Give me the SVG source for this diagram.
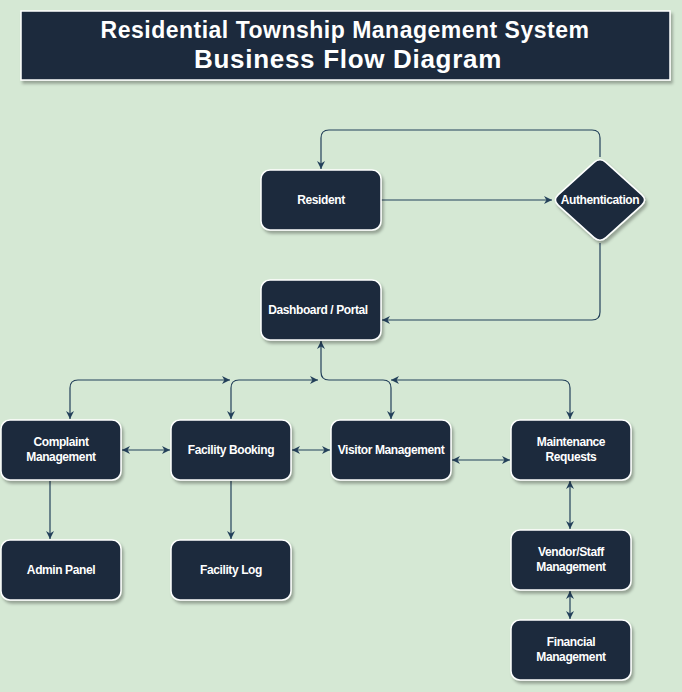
<svg xmlns="http://www.w3.org/2000/svg" width="682" height="692" viewBox="0 0 682 692">
<style>
.bg{fill:#d5e8d4}
.node{fill:#1a2c3e;stroke:#ffffff;stroke-width:1.5;filter:url(#sh)}
.lbl{font-family:"Liberation Sans",Arial,sans-serif;font-size:12px;font-weight:bold;fill:#ffffff;text-anchor:middle;letter-spacing:-0.4px}
.ttl{font-family:"Liberation Sans",Arial,sans-serif;font-weight:bold;fill:#ffffff;text-anchor:middle}
.edge{fill:none;stroke:#23405a;stroke-width:1.2}
.one{marker-end:url(#ah)}
.two{marker-end:url(#ah);marker-start:url(#ah)}
</style>
<defs>
<filter id="sh" x="-20%" y="-20%" width="140%" height="140%">
<feDropShadow dx="2" dy="3" stdDeviation="1.5" flood-color="#000000" flood-opacity="0.3"/>
</filter>
<marker id="ah" viewBox="0 0 10 10" refX="10" refY="5" markerWidth="8" markerHeight="8" markerUnits="userSpaceOnUse" orient="auto-start-reverse">
<path d="M0,0 L10,5 L0,10 L3,5 Z" fill="#23405a"/>
</marker>
</defs>
<rect class="bg" x="0" y="0" width="682" height="692"/>
<g id="title">
<rect class="node" x="21" y="11" width="649" height="69" rx="0"/>
<text class="ttl" x="345" y="38" font-size="23" letter-spacing="0.5">Residential Township Management System</text>
<text class="ttl" x="348" y="68" font-size="26" letter-spacing="0.7">Business Flow Diagram</text>
</g>
<g id="connectors">
<path class="edge one" d="M381,200 L552,200"/>
<path class="edge one" d="M600,157 L600,138 Q600,130 592,130 L329,130 Q321,130 321,138 L321,169"/>
<path class="edge one" d="M600,243 L600,312 Q600,320 592,320 L382,320"/>
<path class="edge two" d="M321,341 L321,372 Q321,380 329,380 L383,380 Q391,380 391,388 L391,419"/>
<path class="edge two" d="M231,419 L231,388 Q231,380 239,380 L318,380"/>
<path class="edge two" d="M70,419 L70,388 Q70,380 78,380 L230,380"/>
<path class="edge two" d="M570,419 L570,388 Q570,380 562,380 L391,380"/>
<path class="edge two" d="M122,450 L170,450"/>
<path class="edge two" d="M292,450 L330,450"/>
<path class="edge two" d="M452,460 L510,460"/>
<path class="edge one" d="M50,481 L50,539"/>
<path class="edge one" d="M231,481 L231,539"/>
<path class="edge two" d="M570,481 L570,529"/>
<path class="edge two" d="M570,591 L570,619"/>
</g>
<g id="resident"><rect class="node" x="261" y="170" width="120" height="60" rx="9"/><text class="lbl" x="321" y="204">Resident</text></g>
<g id="authentication"><path class="node" d="M594.1,162.4 Q600,157 605.9,162.4 L641.6,194.6 Q647.5,200 641.6,205.4 L605.9,237.6 Q600,243 594.1,237.6 L558.4,205.4 Q552.5,200 558.4,194.6 Z"/><text class="lbl" x="600" y="204">Authentication</text></g>
<g id="dashboard"><rect class="node" x="261" y="280" width="120" height="60" rx="9"/><text class="lbl" x="318" y="314">Dashboard / Portal</text></g>
<g id="complaint"><rect class="node" x="1" y="420" width="120" height="60" rx="9"/><text class="lbl" x="61" y="446">Complaint</text><text class="lbl" x="61" y="461">Management</text></g>
<g id="facility-booking"><rect class="node" x="171" y="420" width="120" height="60" rx="9"/><text class="lbl" x="231" y="454">Facility Booking</text></g>
<g id="visitor"><rect class="node" x="331" y="420" width="120" height="60" rx="9"/><text class="lbl" x="391" y="454">Visitor Management</text></g>
<g id="maintenance"><rect class="node" x="511" y="420" width="120" height="60" rx="9"/><text class="lbl" x="571" y="446">Maintenance</text><text class="lbl" x="571" y="461">Requests</text></g>
<g id="admin"><rect class="node" x="1" y="540" width="120" height="60" rx="9"/><text class="lbl" x="61" y="574">Admin Panel</text></g>
<g id="facility-log"><rect class="node" x="171" y="540" width="120" height="60" rx="9"/><text class="lbl" x="231" y="574">Facility Log</text></g>
<g id="vendor"><rect class="node" x="511" y="530" width="120" height="60" rx="9"/><text class="lbl" x="571" y="556">Vendor/Staff</text><text class="lbl" x="571" y="571">Management</text></g>
<g id="financial"><rect class="node" x="511" y="620" width="120" height="60" rx="9"/><text class="lbl" x="571" y="646">Financial</text><text class="lbl" x="571" y="661">Management</text></g>
</svg>
